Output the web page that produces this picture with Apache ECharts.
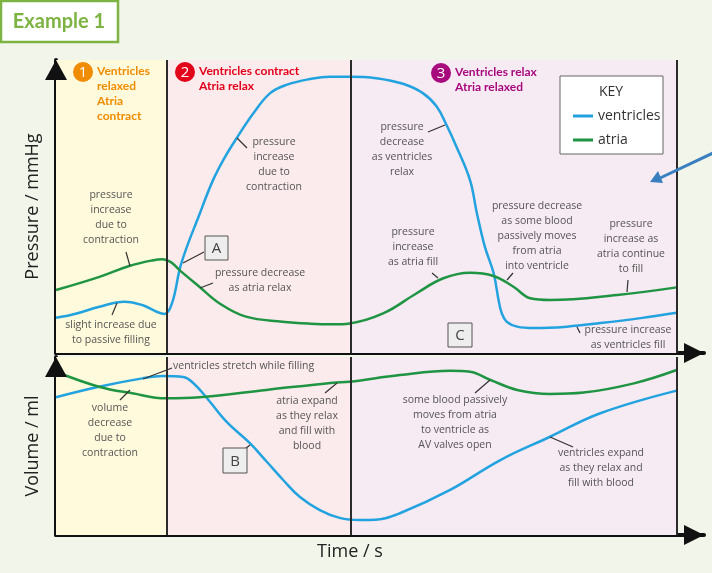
<!DOCTYPE html>
<html>
<head>
<meta charset="utf-8">
<script src="https://cdn.jsdelivr.net/npm/echarts@6/dist/echarts.min.js"></script>
<style>
html, body {margin: 0; padding: 0; background: #f1f5ea;}
#chart {width: 712px; height: 573px;}
</style>
</head>
<body>
<div id="chart"></div>
<script>
// time in arbitrary units (0..100), pressure & volume in relative units (0..100)
var phaseEdges = [0, 17.8, 47.5, 100];
var phaseColors = ['#fffadb', '#fcebec', '#f6eaf3'];

var ventPressure = [[0,12],[3,13.3],[7,15.8],[11,17.5],[14,16.3],[16.3,14],[17.5,13.3],[18.7,17],[20.2,30.7],[23.2,47.8],[25.3,59],[27.2,66.8],[29.1,73.3],[31.8,81.8],[34.5,88.7],[37.1,91.5],[40.9,93.5],[44.1,94.3],[47.3,94.3],[51.6,93.8],[55.9,91.9],[59.1,88.7],[61.3,84.2],[62.9,77.9],[64.5,70.5],[66.7,59],[67.8,47.8],[69.1,36.2],[70.5,27.3],[71.3,18.1],[71.8,13.7],[72.6,10.7],[74.3,9],[77,8.5],[82.3,9],[87.7,10.2],[94.2,11.9],[100,13.7]];
var atriaPressure = [[0,21.5],[7,26],[11.8,29.7],[15.5,31.6],[17.2,32],[18.5,31],[19.9,28.3],[23.1,22.6],[26.3,17],[30.6,12.4],[36.5,10.7],[41,10],[44.6,9.8],[47.3,10.1],[52.7,13.5],[58.1,20.4],[62.4,25.5],[66.7,27.4],[70.5,26.3],[73.7,22.6],[76.4,18.7],[79.6,18.1],[90.4,19.8],[100,22.4]];
var ventVolume = [[0,77.4],[6.9,83.3],[13.9,88],[17.2,89.3],[20.5,88.8],[22.1,85.4],[24.3,77],[27.5,63.5],[31.2,51.7],[34,41],[36.6,30.9],[39.3,21.3],[42.5,14],[45.7,9.6],[48.9,8.4],[51.5,8.6],[55.4,12.2],[63.5,25.3],[71.6,42.1],[79.6,55.2],[87.7,68.4],[100,81.1]];
var atriaVolume = [[0,91.7],[6.9,83.3],[12.3,79.6],[17.7,76.8],[23.1,77.4],[33.9,81.5],[44.6,85.6],[47.3,86.1],[55.4,89.9],[63.5,92.3],[66.7,91.7],[70,87.1],[74.3,81.5],[79.6,79.2],[85,80],[93.1,85.2],[100,92.7]];

var BLUE = '#22a3df', GREEN = '#1f9443';
var NOTE_FONT = '10.5px "Open Sans", sans-serif';

var myChart = echarts.init(document.getElementById('chart'));

function bgSeries(xi, yi) {
    var areas = [];
    for (var i = 0; i < 3; i++) {
        areas.push([{xAxis: phaseEdges[i], itemStyle: {color: phaseColors[i]}}, {xAxis: phaseEdges[i + 1]}]);
    }
    return {
        type: 'line', xAxisIndex: xi, yAxisIndex: yi, data: [], z: 1, silent: true,
        markArea: {silent: true, data: areas},
        markLine: {
            silent: true, symbol: 'none', label: {show: false},
            lineStyle: {color: '#2b2b2b', width: 2, type: 'solid'},
            data: phaseEdges.slice(1).map(function (e) { return {xAxis: e}; })
        }
    };
}
function curve(name, data, color, xi, yi) {
    return {
        name: name, type: 'line', xAxisIndex: xi, yAxisIndex: yi, data: data,
        smooth: 0.4, symbol: 'none', z: 3,
        lineStyle: {color: color, width: 2.5}, itemStyle: {color: color}
    };
}
function note(x, y, text, align) {
    return {type: 'text', z: 20, style: {x: x, y: y - 7.5, text: text, fill: '#555',
        font: NOTE_FONT, textAlign: align || 'center', textVerticalAlign: 'top', lineHeight: 15}};
}
function lead(x1, y1, x2, y2) {
    return {type: 'line', z: 20, shape: {x1: x1, y1: y1, x2: x2, y2: y2}, style: {stroke: '#333', lineWidth: 1.2}};
}
function boxLetter(x, y, w, h, t) {
    return [
        {type: 'rect', z: 20, shape: {x: x, y: y, width: w, height: h}, style: {fill: '#eeeeee', stroke: '#555', lineWidth: 1}},
        {type: 'text', z: 21, style: {x: x + w / 2, y: y + h / 2 + 1, text: t, fill: '#444', font: '15px "Open Sans"', textAlign: 'center', textVerticalAlign: 'middle'}}
    ];
}
function phase(cx, cy, num, color, text) {
    return [
        {type: 'circle', z: 20, shape: {cx: cx, cy: cy, r: 10}, style: {fill: color}},
        {type: 'text', z: 21, style: {x: cx, y: cy + 1, text: num, fill: '#fff', font: '15px "Open Sans"', textAlign: 'center', textVerticalAlign: 'middle'}},
        {type: 'text', z: 21, style: {x: cx + 14, y: cy - 8, text: text, fill: color, font: 'bold 12px Lato', textVerticalAlign: 'top', lineHeight: 15}}
    ];
}
function arrowHead(tx, ty, dir) {
    // dir: 'up' or 'right'
    var pts = dir === 'up' ? [[tx, ty], [tx - 11, ty + 20], [tx + 11, ty + 20]]
                           : [[tx, ty], [tx - 20, ty - 10], [tx - 20, ty + 10]];
    return {type: 'polygon', z: 22, shape: {points: pts}, style: {fill: '#111'}};
}

var axisLineStyle = {show: true, lineStyle: {color: '#111', width: 4}};
var hidden = {axisTick: {show: false}, axisLabel: {show: false}, splitLine: {show: false}};

var graphics = [
    {type: 'rect', z: 15, shape: {x: 1, y: 1, width: 117, height: 41}, style: {fill: '#fff', stroke: '#7db343', lineWidth: 2.5}},
    {type: 'text', z: 16, style: {x: 59, y: 22, text: 'Example 1', fill: '#7db343', font: 'bold 20px Lato', textAlign: 'center', textVerticalAlign: 'middle'}},
    {type: 'rect', z: 3, shape: {x: 560, y: 76, width: 103, height: 78}, style: {fill: '#fff', stroke: '#666', lineWidth: 1}},
    {type: 'text', z: 16, style: {x: 611, y: 92, text: 'KEY', fill: '#333', font: '14px "Open Sans"', textAlign: 'center', textVerticalAlign: 'middle'}},
    {type: 'text', z: 16, style: {x: 350, y: 552, text: 'Time / s', fill: '#222', font: '18px "Open Sans"', textAlign: 'center', textVerticalAlign: 'middle'}},
    {type: 'line', z: 16, shape: {x1: 713, y1: 153, x2: 658, y2: 179}, style: {stroke: '#3a7fc0', lineWidth: 3}},
    {type: 'polygon', z: 16, shape: {points: [[650, 182], [658, 171], [663, 183]]}, style: {fill: '#3a7fc0'}},
    arrowHead(56, 60, 'up'), arrowHead(56, 357, 'up'),
    arrowHead(704, 353, 'right'), arrowHead(704, 535, 'right'),
    note(111, 195, 'pressure\nincrease\ndue to\ncontraction'), lead(126, 252, 130, 266),
    note(111, 325, 'slight increase due\nto passive filling'), lead(112, 315, 117, 303),
    note(274, 142, 'pressure\nincrease\ndue to\ncontraction'), lead(237, 138, 247, 148),
    lead(183, 263, 204, 252),
    note(260, 273, 'pressure decrease\nas atria relax'), lead(200, 288, 213, 283),
    note(402, 127, 'pressure\ndecrease\nas ventricles\nrelax'), lead(428, 132, 445, 125),
    note(413, 232, 'pressure\nincrease\nas atria fill'), lead(432, 273, 438, 278),
    note(537, 206, 'pressure decrease\nas some blood\npassively moves\nfrom atria\ninto ventricle'), lead(507, 280, 513, 273),
    note(631, 224, 'pressure\nincrease as\natria continue\nto fill'), lead(628, 280, 627, 292),
    note(628, 330, 'pressure increase\nas ventricles fill'), lead(577, 327, 580, 333),
    note(173, 366, 'ventricles stretch while filling', 'left'), lead(143, 379, 172, 368),
    note(110, 408, 'volume\ndecrease\ndue to\ncontraction'), lead(120, 400, 130, 390),
    note(307, 401, 'atria expand\nas they relax\nand fill with\nblood'), lead(325, 393, 337, 383),
    lead(245, 449, 250, 445),
    note(455, 400, 'some blood passively\nmoves from atria\nto ventricle as\nAV valves open'), lead(475, 393, 490, 380),
    note(601, 453, 'ventricles expand\nas they relax and\nfill with blood'), lead(550, 437, 573, 447)
].concat(
    phase(83, 72, '1', '#f08c00', 'Ventricles\nrelaxed\nAtria\ncontract'),
    phase(185, 72, '2', '#e3001b', 'Ventricles contract\nAtria relax'),
    phase(441, 73, '3', '#a80a7e', 'Ventricles relax\nAtria relaxed'),
    boxLetter(205, 236, 23, 24, 'A'),
    boxLetter(448, 323, 24, 24, 'C'),
    boxLetter(223, 448, 24, 25, 'B')
);

var option = {
    animation: false,
    backgroundColor: '#f1f5ea',
    grid: [
        {left: 56, right: 8, top: 60, bottom: 220},
        {left: 56, right: 8, top: 357, bottom: 38}
    ],
    xAxis: [
        Object.assign({type: 'value', gridIndex: 0, min: 0, max: 104.4, axisLine: axisLineStyle}, hidden),
        Object.assign({type: 'value', gridIndex: 1, min: 0, max: 104.4, axisLine: axisLineStyle}, hidden)
    ],
    yAxis: [
        Object.assign({type: 'value', gridIndex: 0, min: 0, max: 100, axisLine: axisLineStyle,
            name: 'Pressure / mmHg', nameLocation: 'middle', nameGap: 14,
            nameTextStyle: {fontSize: 18, color: '#222', fontFamily: 'Open Sans'}}, hidden),
        Object.assign({type: 'value', gridIndex: 1, min: 0, max: 100, axisLine: axisLineStyle,
            name: 'Volume / ml', nameLocation: 'middle', nameGap: 14,
            nameTextStyle: {fontSize: 18, color: '#222', fontFamily: 'Open Sans'}}, hidden)
    ],
    legend: {
        left: 568, top: 104, orient: 'vertical', itemGap: 10, itemWidth: 20, itemHeight: 3, z: 10,
        icon: 'rect',
        data: ['ventricles', 'atria'], textStyle: {fontSize: 14, color: '#333', fontFamily: 'Open Sans'}
    },
    series: [
        bgSeries(0, 0), bgSeries(1, 1),
        curve('ventricles', ventPressure, BLUE, 0, 0),
        curve('atria', atriaPressure, GREEN, 0, 0),
        curve('ventricles', ventVolume, BLUE, 1, 1),
        curve('atria', atriaVolume, GREEN, 1, 1)
    ],
    graphic: graphics
};
myChart.setOption(option);
</script>
</body>
</html>
